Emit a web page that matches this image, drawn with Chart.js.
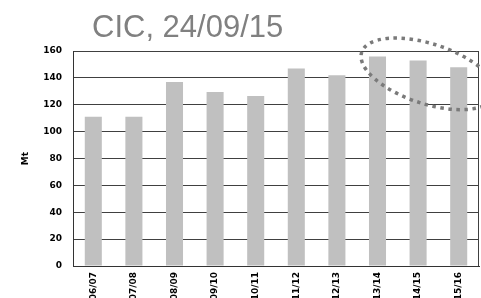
<!DOCTYPE html>
<html>
<head>
<meta charset="utf-8">
<script src="https://cdn.jsdelivr.net/npm/chart.js@4/dist/chart.umd.min.js"></script>
<style>
  html, body { margin: 0; padding: 0; background: #fff; overflow: hidden; }
  /* the chart is taller than the window, so the year labels get cut at the bottom like in the picture */
  #wrap { position: relative; width: 481px; height: 316px; }
</style>
</head>
<body>
<div id="wrap"><canvas id="chart"></canvas></div>
<script>
// campañas y producción (Mt)
const seasons = ['2006/07', '2007/08', '2008/09', '2009/10', '2010/11', '2011/12', '2012/13', '2013/14', '2014/15', '2015/16'];
const production = [111, 111, 137, 129.5, 126.5, 147, 142, 156, 153, 148];
const yMin = 0;
const yMax = 160;
const yStep = 20;
const titleText = 'CIC, 24/09/15';
const axisTitle = 'Mt';

// elipse punteada alrededor de las últimas campañas (centro en índice de categoría y valor)
const ringCenterIndex = 8.25;
const ringCenterValue = 143;

const tickFont = { family: 'DejaVu Sans', size: 9, weight: 'bold' };

// título, borde derecho y elipse
const extras = {
    id: 'extras',
    afterDraw(chart) {
        const ctx = chart.ctx;
        const area = chart.chartArea;
        const x = chart.scales.x;
        const y = chart.scales.y;

        ctx.save();
        ctx.fillStyle = '#808080';
        ctx.font = '31px "Liberation Sans", Arial, sans-serif';
        ctx.textBaseline = 'alphabetic';
        ctx.fillText(titleText, 92, 37);

        ctx.strokeStyle = '#404040';
        ctx.lineWidth = 1;
        ctx.beginPath();
        ctx.moveTo(Math.round(area.right) - 0.5, area.top);
        ctx.lineTo(Math.round(area.right) - 0.5, area.bottom);
        ctx.stroke();

        const cx = x.getPixelForValue(ringCenterIndex);
        const cy = y.getPixelForValue(ringCenterValue);
        ctx.strokeStyle = '#7a7a7a';
        ctx.lineWidth = 3.5;
        ctx.setLineDash([3.5, 4.5]);
        ctx.beginPath();
        ctx.ellipse(cx, cy, 70, 30, 18 * Math.PI / 180, 0, Math.PI * 2);
        ctx.stroke();
        ctx.restore();
    }
};

new Chart(document.getElementById('chart'), {
    type: 'bar',
    data: {
        labels: seasons,
        datasets: [{
            data: production,
            backgroundColor: '#c0c0c0',
            borderWidth: 0,
            categoryPercentage: 1,
            barPercentage: 0.42
        }]
    },
    options: {
        responsive: true,
        maintainAspectRatio: false,
        animation: false,
        events: [],
        layout: { padding: { top: 51, right: 2, left: 0, bottom: 0 } },
        plugins: {
            legend: { display: false },
            tooltip: { enabled: false },
            title: { display: false }
        },
        scales: {
            x: {
                grid: { display: false, drawTicks: false },
                border: { display: true, color: '#333', width: 1 },
                ticks: {
                    color: '#000',
                    font: tickFont,
                    minRotation: 90,
                    maxRotation: 90,
                    autoSkip: false,
                    padding: 6
                },
                afterFit(scale) { scale.height = 50; }
            },
            y: {
                min: yMin,
                max: yMax,
                grid: { color: '#404040', lineWidth: 1, drawTicks: false },
                border: { display: true, color: '#333', width: 1 },
                ticks: {
                    stepSize: yStep,
                    color: '#000',
                    font: tickFont,
                    padding: 11
                },
                title: {
                    display: true,
                    text: axisTitle,
                    color: '#000',
                    font: tickFont,
                    padding: { top: 20, bottom: 0 }
                },
                afterFit(scale) { scale.width = 73; }
            }
        }
    },
    plugins: [extras]
});
</script>
</body>
</html>
